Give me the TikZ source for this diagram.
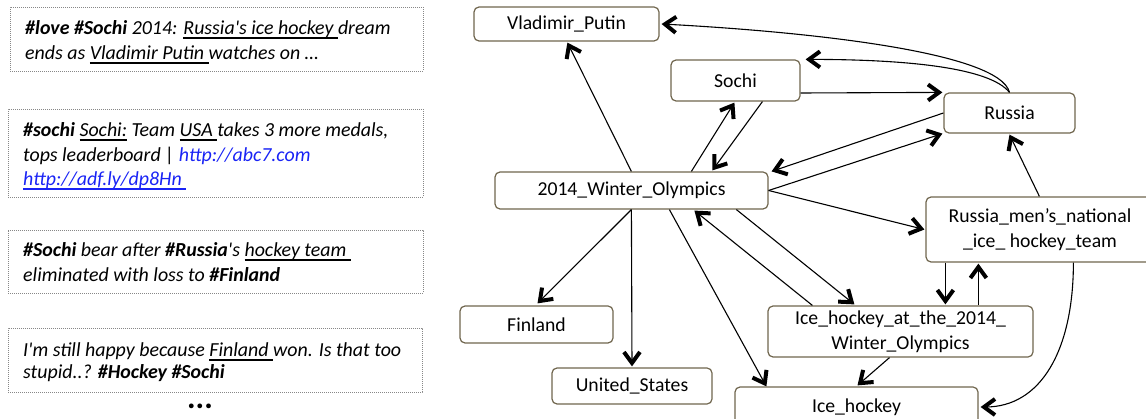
\documentclass[tikz,border=0pt]{standalone}
\usepackage{fontspec}
\setmainfont{Carlito}[Ligatures=TeXOff]
\usetikzlibrary{arrows.meta}
\definecolor{boxline}{RGB}{112,102,78}
\definecolor{linkblue}{RGB}{25,35,245}
\definecolor{dotline}{RGB}{135,135,135}

% bold open chevron, drawn as a filled outline
\pgfdeclarearrow{
  name = Chevron,
  setup code = {
    \pgfarrowssettipend{0pt}
    \pgfarrowssetlineend{-5pt}
    \pgfarrowssetbackend{-15.6pt}
  },
  drawing code = {
    \pgfpathmoveto{\pgfpoint{0pt}{0pt}}
    \pgfpathlineto{\pgfpoint{-13.2pt}{9.6pt}}
    \pgfpathlineto{\pgfpoint{-15.6pt}{6.4pt}}
    \pgfpathlineto{\pgfpoint{-6.8pt}{0pt}}
    \pgfpathlineto{\pgfpoint{-15.6pt}{-6.4pt}}
    \pgfpathlineto{\pgfpoint{-13.2pt}{-9.6pt}}
    \pgfpathclose
    \pgfusepathqfill
  },
  parameters = {}
}

% thick underline that keeps trailing spaces
\newsavebox{\ulbox}
\newcommand{\uln}[2][black]{\sbox{\ulbox}{#2}\rlap{\color{#1}\rule[-4.3pt]{\wd\ulbox}{2pt}}\usebox{\ulbox}}

\begin{document}
\begin{tikzpicture}[x=1pt,y=-1pt,
  entity/.style={draw=boxline, line width=1.2pt, rounded corners=5pt, fill=white,
    inner sep=0pt, align=center, font=\fontsize{19.7}{25}\selectfont},
  tweet/.style={draw=dotline, line width=0.9pt, dash pattern=on 0.9pt off 1.1pt, inner sep=0pt},
  tline/.style={anchor=base west, inner sep=0pt, font=\fontsize{19.9}{24}\selectfont\itshape},
  rel/.style={-Chevron, line width=1.1pt}]
\useasboundingbox (0,0) rectangle (1146,419);
\clip (0,0) rectangle (1146,419);

% tweets
\node[tweet, minimum width=413pt, minimum height=64pt] (tw1) at (216.5,39) {};
\node[tweet, minimum width=415pt, minimum height=88pt] (tw2) at (215.5,153) {};
\node[tweet, minimum width=415pt, minimum height=63pt] (tw3) at (215.5,261.5) {};
\node[tweet, minimum width=414pt, minimum height=64pt] (tw4) at (215,360) {};

\node[tline] (t1a) at (25,35) {\textbf{\#love \#Sochi} 2014: \uln{Russia's ice hockey }dream};
\node[tline] (t1b) at (25,60) {ends as \uln{Vladimir Putin }watches on …};
\node[tline] (t2a) at (23,137) {\textbf{\#sochi} \uln{Sochi:} Team \uln{USA }takes 3 more medals,};
\node[tline] (t2b) at (23,162) {tops leaderboard | \textcolor{linkblue}{http://abc7.com}};
\node[tline] (t2c) at (23,186) {\uln[linkblue]{\textcolor{linkblue}{http://adf.ly/dp8Hn }}};
\node[tline] (t3a) at (23,257) {\textbf{\#Sochi} bear after \textbf{\#Russia}'s \uln{hockey team }};
\node[tline] (t3b) at (23,282) {eliminated with loss to \textbf{\#Finland}};
\node[tline] (t4a) at (23,357) {I'm still happy because \uln{Finland }won. Is that too};
\node[tline] (t4b) at (23,379) {stupid..? \textbf{\#Hockey \#Sochi}};
\node[inner sep=0pt, font=\fontsize{32}{32}\selectfont\bfseries] (more) at (200,406) {...};

% entities
\node[entity, minimum width=185pt, minimum height=34pt] (putin) at (566.5,24) {Vladimir\_Putin};
\node[entity, minimum width=129pt, minimum height=41pt] (sochi) at (735.5,80.5) {Sochi};
\node[entity, minimum width=131pt, minimum height=40pt] (russia) at (1009.5,113) {Russia};
\node[entity, minimum width=273pt, minimum height=37pt] (wo) at (631.5,190.5) {2014\_Winter\_Olympics};
\node[entity, minimum width=153pt, minimum height=37pt] (finland) at (536.5,324.5) {Finland};
\node[entity, minimum width=160pt, minimum height=36pt] (us) at (632,386) {United\_States};
\node[entity, minimum width=265pt, minimum height=51pt] (ihat) at (900.5,331.5) {Ice\_hockey\_at\_the\_2014\_\\Winter\_Olympics};
\node[entity, minimum width=228pt, minimum height=65pt] (rmen) at (1040,229.5) {Russia\_men’s\_national\\\_ice\_ hockey\_team};
\node[entity, minimum width=243pt, minimum height=40pt] (icehockey) at (856.5,407) {Ice\_hockey};

% relations
\draw[rel] ([xshift=137pt]wo.north west) -- ([xshift=94pt,yshift=-1pt]putin.south west);
\draw[rel] ([xshift=197pt]wo.north west) -- ([xshift=64pt,yshift=-1pt]sochi.south west);
\draw[rel] ([xshift=92pt]sochi.south west) -- ([xshift=218pt,yshift=1pt]wo.north west);
\draw[rel] (russia.north) .. controls +(-10,-40) and +(150,8) .. ([xshift=2pt]putin.east);
\draw[rel] (russia.north) .. controls +(-20,-25) and +(100,0) .. ([xshift=5pt]sochi.north east);
\draw[rel] ([yshift=-12.5pt]sochi.east) -- ([xshift=-1pt]russia.north west);
\draw[rel] (russia.west) -- ([xshift=3pt]wo.north east);
\draw[rel] (wo.east) -- ([xshift=-1pt]russia.south west);
\draw[rel] (wo.east) -- ([xshift=-1pt]rmen.west);
\draw[rel] ([xshift=114pt]rmen.north west) -- ([yshift=-1pt]russia.south);
\draw[rel] ([xshift=20pt]rmen.south west) -- ([xshift=178pt,yshift=1pt]ihat.north west);
\draw[rel] ([xshift=211pt]ihat.north west) -- ([xshift=53pt,yshift=-1pt]rmen.south west);
\draw[rel] ([xshift=148pt]rmen.south west) .. controls +(0,88) and +(60,0) .. ([xshift=2pt]icehockey.east);
\draw[rel] ([xshift=-11pt]ihat.south) -- ([xshift=1pt,yshift=1pt]icehockey.north);
\draw[rel] ([xshift=242pt]wo.south west) -- ([xshift=87pt,yshift=1pt]ihat.north west);
\draw[rel] ([xshift=45pt]ihat.north west) -- ([xshift=200pt,yshift=-1pt]wo.south west);
\draw[rel] ([xshift=175pt]wo.south west) -- ([xshift=32pt]icehockey.north west);
\draw[rel] ([xshift=137pt]wo.south west) -- ([yshift=1pt]us.north);
\draw[rel] ([xshift=137pt]wo.south west) -- ([xshift=1pt,yshift=2pt]finland.north);
\end{tikzpicture}
\end{document}
